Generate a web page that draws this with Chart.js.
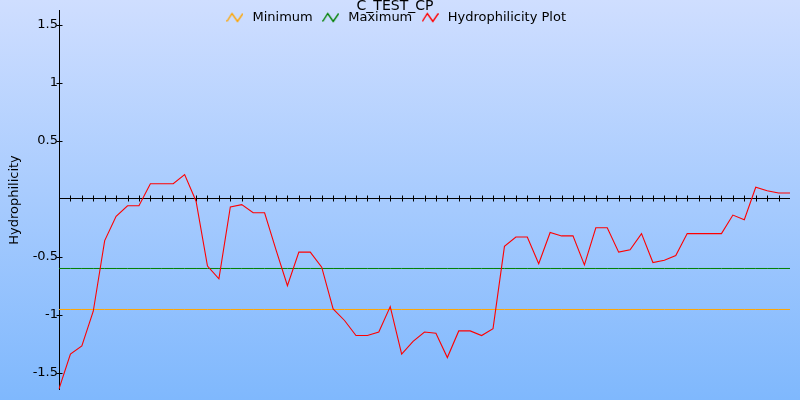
<!DOCTYPE html>
<html>
<head>
<meta charset="utf-8">
<script src="https://cdn.jsdelivr.net/npm/chart.js@4/dist/chart.umd.min.js"></script>
<style>
  html, body { margin: 0; padding: 0; }
  #wrap { width: 800px; height: 400px; }
</style>
</head>
<body>
<div id="wrap"><canvas id="chart" width="800" height="400"></canvas></div>
<script>
// residue positions (x axis, no labels shown)
const residues = [
  1, 2, 3, 4, 5, 6, 7, 8, 9, 10, 11, 12, 13, 14, 15, 16, 17, 18, 19, 20,
  21, 22, 23, 24, 25, 26, 27, 28, 29, 30, 31, 32, 33, 34, 35, 36, 37, 38, 39, 40,
  41, 42, 43, 44, 45, 46, 47, 48, 49, 50, 51, 52, 53, 54, 55, 56, 57, 58, 59, 60,
  61, 62, 63, 64, 65
];

// hydrophilicity per residue
const hydrophilicity = [
  -1.64, -1.34, -1.27, -0.97, -0.36, -0.15, -0.06, -0.06, 0.13, 0.13,
  0.13, 0.21, -0.02, -0.58, -0.69, -0.07, -0.05, -0.12, -0.12, -0.44,
  -0.75, -0.46, -0.46, -0.59, -0.95, -1.05, -1.18, -1.18, -1.15, -0.93,
  -1.34, -1.23, -1.15, -1.16, -1.37, -1.14, -1.14, -1.18, -1.12, -0.41,
  -0.33, -0.33, -0.56, -0.29, -0.32, -0.32, -0.57, -0.25, -0.25, -0.46,
  -0.44, -0.30, -0.55, -0.53, -0.49, -0.30, -0.30, -0.30, -0.30, -0.14,
  -0.18, 0.10, 0.07, 0.05, 0.05
];

const minimumLevel = -0.955;
const maximumLevel = -0.601;

// y tick labels (0 is left out, the x axis sits there)
const yTickValues = [-1.5, -1, -0.5, 0.5, 1, 1.5];

const seriesNames = ['Minimum', 'Maximum', 'Hydrophilicity Plot'];
const seriesColors = ['#ffa500', '#008000', '#ff0000'];

// small zigzag used as the legend symbol
function zigzagIcon(color) {
  const c = document.createElement('canvas');
  c.width = 17;
  c.height = 11;
  const g = c.getContext('2d');
  g.strokeStyle = color;
  g.lineWidth = 1.4;
  g.beginPath();
  g.moveTo(0.5, 9.5);
  g.lineTo(5.5, 1.5);
  g.lineTo(11, 9.5);
  g.lineTo(16.5, 1.5);
  g.stroke();
  return c;
}

// gradient background over the whole canvas
const backgroundPlugin = {
  id: 'gradientBackground',
  beforeDraw: (chart) => {
    const ctx = chart.ctx;
    const grad = ctx.createLinearGradient(0, 0, 0, chart.height);
    grad.addColorStop(0, '#cfdeff');
    grad.addColorStop(1, '#7fb8fd');
    ctx.save();
    ctx.fillStyle = grad;
    ctx.fillRect(0, 0, chart.width, chart.height);
    ctx.restore();
  }
};

// title and legend are drawn over the top of the plot, so they get almost no room
const compactHeaderPlugin = {
  id: 'compactHeader',
  beforeInit: (chart) => {
    const title = chart.titleBlock;
    const titleUpdate = title.update;
    title.update = function (w, h, m) {
      titleUpdate.call(this, w, h, m);
      this.height = 4;
      this.bottom = this.top + 4;
    };
    const legend = chart.legend;
    const legendFit = legend.fit;
    legend.fit = function () {
      legendFit.call(this);
      this.height = 6;
    };
  },
  afterLayout: (chart) => {
    // give the legend its full box back so its clip area holds the labels
    const legend = chart.legend;
    legend.height = 30;
    legend.bottom = legend.top + 30;
  }
};

// axes crossing at zero, with ticks on both sides of each line
const axesPlugin = {
  id: 'crossAxes',
  beforeDatasetsDraw: (chart) => {
    const ctx = chart.ctx;
    const area = chart.chartArea;
    const xs = chart.scales.x;
    const ys = chart.scales.y;
    const x0 = Math.round(area.left) + 0.5;
    const y0 = Math.round(ys.getPixelForValue(0)) - 0.5;
    ctx.save();
    ctx.strokeStyle = '#000';
    ctx.lineWidth = 1;
    ctx.beginPath();
    ctx.moveTo(x0, area.top);
    ctx.lineTo(x0, area.bottom);
    ctx.moveTo(area.left, y0);
    ctx.lineTo(area.right, y0);
    yTickValues.forEach(v => {
      const py = Math.round(ys.getPixelForValue(v)) + 0.5;
      ctx.moveTo(x0 - 3, py);
      ctx.lineTo(x0 + 3, py);
    });
    for (let i = 1; i < residues.length - 1; i++) {
      const px = Math.round(xs.getPixelForValue(i)) + 0.5;
      ctx.moveTo(px, y0 - 3);
      ctx.lineTo(px, y0 + 3);
    }
    ctx.stroke();
    ctx.restore();
  }
};

const ctx = document.getElementById('chart').getContext('2d');

new Chart(ctx, {
  type: 'line',
  data: {
    labels: residues.slice(0, hydrophilicity.length),
    datasets: [
      {
        label: seriesNames[0],
        data: hydrophilicity.map(() => minimumLevel),
        borderColor: seriesColors[0],
        borderWidth: 1,
        pointRadius: 0,
        pointStyle: zigzagIcon(seriesColors[0]),
        order: 1
      },
      {
        label: seriesNames[1],
        data: hydrophilicity.map(() => maximumLevel),
        borderColor: seriesColors[1],
        borderWidth: 1,
        pointRadius: 0,
        pointStyle: zigzagIcon(seriesColors[1]),
        order: 1
      },
      {
        label: seriesNames[2],
        data: hydrophilicity,
        borderColor: seriesColors[2],
        borderWidth: 1.1,
        pointRadius: 0,
        pointStyle: zigzagIcon(seriesColors[2]),
        order: 0
      }
    ]
  },
  options: {
    responsive: false,
    animation: false,
    devicePixelRatio: 1,
    layout: { padding: { top: 0, left: 0, right: 10, bottom: 10 } },
    scales: {
      x: {
        type: 'category',
        display: false,
        offset: false
      },
      y: {
        min: -1.65,
        max: 1.63,
        grid: { display: false, drawTicks: false, tickLength: 0 },
        border: { display: false },
        afterFit: (scale) => { scale.width = 59; },
        afterBuildTicks: (scale) => {
          scale.ticks = yTickValues.map(v => ({ value: v }));
        },
        ticks: {
          padding: 1,
          color: '#000',
          font: { family: 'DejaVu Sans', size: 13 },
          callback: (v) => String(v)
        },
        title: {
          display: true,
          text: 'Hydrophilicity',
          color: '#000',
          font: { family: 'DejaVu Sans', size: 13 },
          padding: { top: 7, bottom: 0 }
        }
      }
    },
    plugins: {
      title: {
        display: true,
        text: 'C_TEST_CP',
        color: '#000',
        font: { family: 'DejaVu Sans', size: 14, weight: 'normal' },
        padding: { top: -2, bottom: 0 }
      },
      legend: {
        display: true,
        labels: {
          color: '#000',
          font: { family: 'DejaVu Sans', size: 13 },
          usePointStyle: true,
          pointStyleWidth: 22,
          padding: 7,
          sort: (a, b) => a.datasetIndex - b.datasetIndex
        }
      },
      tooltip: { enabled: false }
    }
  },
  plugins: [backgroundPlugin, compactHeaderPlugin, axesPlugin]
});
</script>
</body>
</html>
